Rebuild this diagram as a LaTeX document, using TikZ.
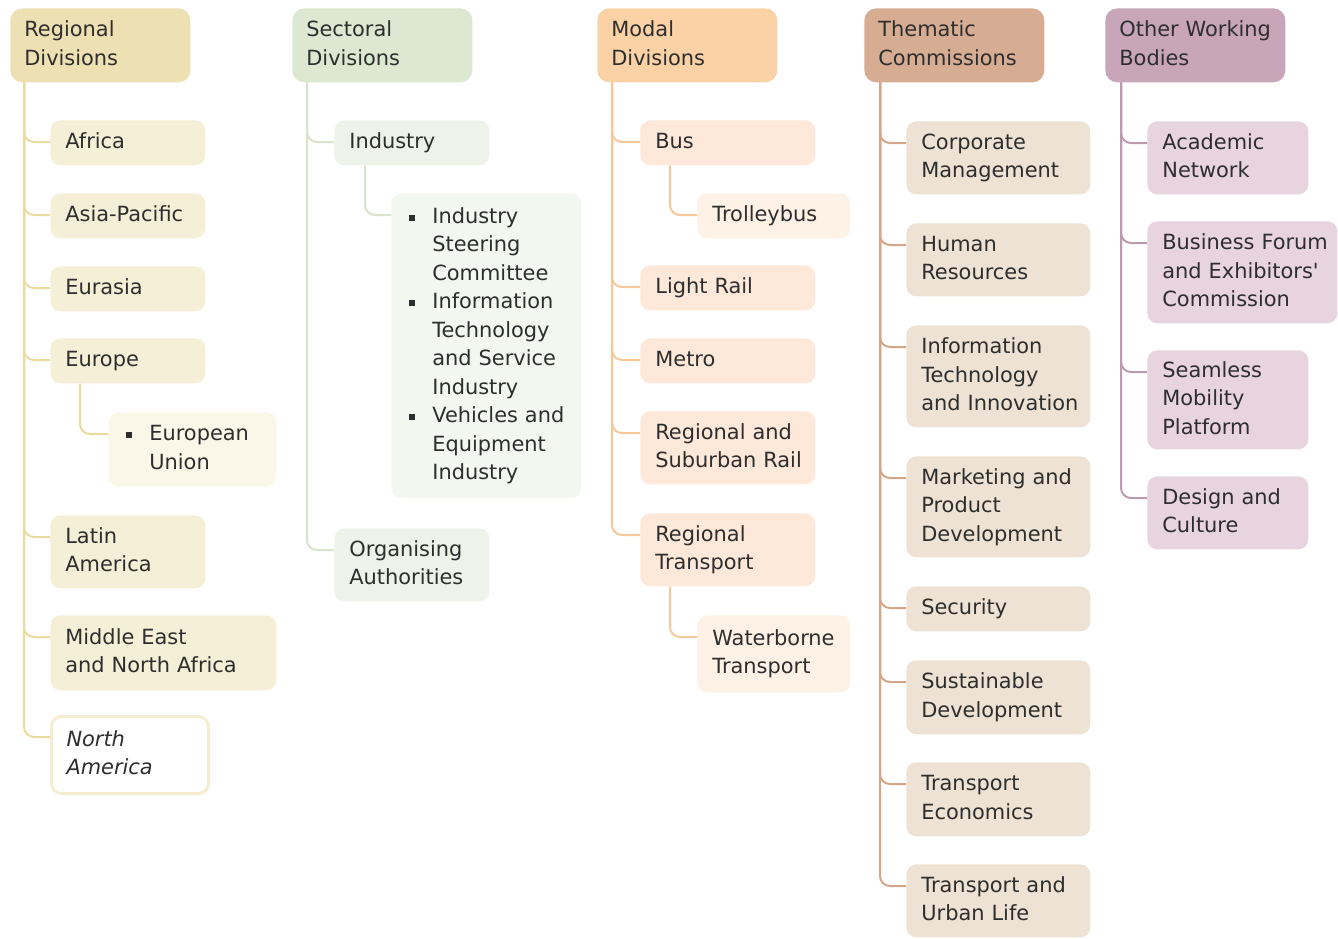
\documentclass[tikz,border=0pt]{standalone}
\usepackage{fontspec}
\setmainfont{DejaVu Sans}
\usepackage{xcolor}
\usetikzlibrary{calc}

\definecolor{regdark}{HTML}{EDE1B4}
\definecolor{reglite}{HTML}{F6EFD7}
\definecolor{regpale}{HTML}{FAF6E8}
\definecolor{regline}{HTML}{EADB9F}
\definecolor{secdark}{HTML}{DDE8D2}
\definecolor{seclite}{HTML}{EDF3E8}
\definecolor{secpale}{HTML}{F2F7EF}
\definecolor{secline}{HTML}{D8E3CC}
\definecolor{moddark}{HTML}{FBD2A6}
\definecolor{modlite}{HTML}{FDE8DA}
\definecolor{modpale}{HTML}{FEF2E6}
\definecolor{modline}{HTML}{F6C897}
\definecolor{themdark}{HTML}{D6AC93}
\definecolor{themlite}{HTML}{EDE2D3}
\definecolor{themline}{HTML}{D3A68A}
\definecolor{othdark}{HTML}{C9A5BA}
\definecolor{othlite}{HTML}{E7D4DE}
\definecolor{othline}{HTML}{BB9AAD}
\definecolor{ink}{HTML}{2E2E2E}

\hyphenpenalty=10000
\exhyphenpenalty=10000

\newdimen\pxu
\pxu=0.02cm
\newcommand{\sqb}{\makebox[31\pxu][l]{\hspace{8\pxu}\rule[1.6pt]{3.4pt}{3.4pt}}}
\newcommand{\ind}{\hspace*{31\pxu}}

\begin{document}
\begin{tikzpicture}[x=0.02cm, y=-0.02cm,
    every node/.style={font=\fontsize{11.9}{16.2}\selectfont, text=ink, align=left,
        anchor=north west, inner xsep=15\pxu, inner ysep=3\pxu, rounded corners=10\pxu,
        execute at begin node=\strut, execute at end node=\strut},
    sz/.style 2 args={text width=#1\pxu, minimum height=#2\pxu},
    hdr/.style={sz={152}{74}, inner xsep=14\pxu, rounded corners=12\pxu},
    listbox/.style={inner xsep=10\pxu},
    ln/.style={line width=2\pxu, rounded corners=10\pxu}]

    \useasboundingbox (0,0) rectangle (1338,938);

    % headers
    \node[hdr, fill=regdark] (reg) at (10,8) {Regional\\Divisions};
    \node[hdr, fill=secdark] (sec) at (292,8) {Sectoral\\Divisions};
    \node[hdr, fill=moddark] (mod) at (597,8) {Modal\\Divisions};
    \node[hdr, fill=themdark] (them) at (864,8) {Thematic\\Commissions};
    \node[hdr, fill=othdark] (oth) at (1105,8) {Other~Working\\Bodies};

    % regional
    \node[sz={125}{45}, fill=reglite] (afr) at (50,120) {Africa};
    \node[sz={125}{45}, fill=reglite] (asia) at (50,193) {Asia-Pacific};
    \node[sz={125}{45}, fill=reglite] (eura) at (50,266) {Eurasia};
    \node[sz={125}{45}, fill=reglite] (euro) at (50,338) {Europe};
    \node[listbox, sz={148}{74}, fill=regpale] (eu) at (108,412) {\sqb European\\\ind Union};
    \node[sz={125}{73}, fill=reglite] (latam) at (50,515) {Latin\\America};
    \node[sz={196}{75}, fill=reglite] (mena) at (50,615) {Middle~East\\and~North~Africa};
    \node[sz={127}{77}, fill=white, draw=regline!50, line width=3\pxu,
        font=\fontsize{11.9}{16.2}\selectfont\itshape] (nam) at (50,715) {North\\America};

    % sectoral
    \node[sz={125}{45}, fill=seclite] (ind) at (334,120) {Industry};
    \node[listbox, sz={170}{305}, fill=secpale] (indsub) at (391,193)
        {\sqb Industry\\\ind Steering\\\ind Committee\\\sqb Information\\\ind Technology\\
         \ind and~Service\\\ind Industry\\\sqb Vehicles~and\\\ind Equipment\\\ind Industry};
    \node[sz={125}{73}, fill=seclite] (org) at (334,528) {Organising\\Authorities};

    % modal
    \node[sz={145}{45}, fill=modlite] (bus) at (640,120) {Bus};
    \node[sz={123}{45}, fill=modpale] (troll) at (697,193) {Trolleybus};
    \node[sz={145}{45}, fill=modlite] (lrail) at (640,265) {Light~Rail};
    \node[sz={145}{45}, fill=modlite] (metro) at (640,338) {Metro};
    \node[sz={145}{73}, fill=modlite] (rsrail) at (640,411) {Regional~and\\Suburban~Rail};
    \node[sz={145}{73}, fill=modlite] (rtrans) at (640,513) {Regional\\Transport};
    \node[sz={123}{77}, fill=modpale] (water) at (697,615) {Waterborne\\Transport};

    % thematic
    \node[sz={154}{73}, fill=themlite] (corp) at (906,121) {Corporate\\Management};
    \node[sz={154}{73}, fill=themlite] (hr) at (906,223) {Human\\Resources};
    \node[sz={154}{102}, fill=themlite] (itinn) at (906,325) {Information\\Technology\\and~Innovation};
    \node[sz={154}{101}, fill=themlite] (mkt) at (906,456) {Marketing~and\\Product\\Development};
    \node[sz={154}{45}, fill=themlite] (secu) at (906,586) {Security};
    \node[sz={154}{74}, fill=themlite] (sust) at (906,660) {Sustainable\\Development};
    \node[sz={154}{74}, fill=themlite] (teco) at (906,762) {Transport\\Economics};
    \node[sz={154}{73}, fill=themlite] (urban) at (906,864) {Transport~and\\Urban~Life};

    % other bodies
    \node[sz={131}{73}, fill=othlite] (acad) at (1147,121) {Academic\\Network};
    \node[sz={160}{102}, fill=othlite] (bizf) at (1147,221) {Business~Forum\\and~Exhibitors\textquotesingle\\Commission};
    \node[sz={131}{99}, fill=othlite] (seam) at (1147,350) {Seamless\\Mobility\\Platform};
    \node[sz={131}{73}, fill=othlite] (design) at (1147,476) {Design~and\\Culture};

    % branches
    \foreach \c in {afr,asia,eura,euro,latam,mena,nam}
        \draw[ln, regline] ($(reg.south west)+(14\pxu,0)$) |- ($(\c.north west)+(0,-22\pxu)$);
    \draw[ln, regline] ($(euro.south west)+(30\pxu,0)$) |- ($(eu.north west)+(0,-22\pxu)$);

    \foreach \c in {ind,org}
        \draw[ln, secline] ($(sec.south west)+(15\pxu,0)$) |- ($(\c.north west)+(0,-22\pxu)$);
    \draw[ln, secline] ($(ind.south west)+(31\pxu,0)$) |- ($(indsub.north west)+(0,-22\pxu)$);

    \foreach \c in {bus,lrail,metro,rsrail,rtrans}
        \draw[ln, modline] ($(mod.south west)+(15\pxu,0)$) |- ($(\c.north west)+(0,-22\pxu)$);
    \draw[ln, modline] ($(bus.south west)+(30\pxu,0)$) |- ($(troll.north west)+(0,-22\pxu)$);
    \draw[ln, modline] ($(rtrans.south west)+(30\pxu,0)$) |- ($(water.north west)+(0,-22\pxu)$);

    \foreach \c in {corp,hr,itinn,mkt,secu,sust,teco,urban}
        \draw[ln, themline] ($(them.south west)+(16\pxu,0)$) |- ($(\c.north west)+(0,-22\pxu)$);

    \foreach \c in {acad,bizf,seam,design}
        \draw[ln, othline] ($(oth.south west)+(16\pxu,0)$) |- ($(\c.north west)+(0,-22\pxu)$);
\end{tikzpicture}
\end{document}
